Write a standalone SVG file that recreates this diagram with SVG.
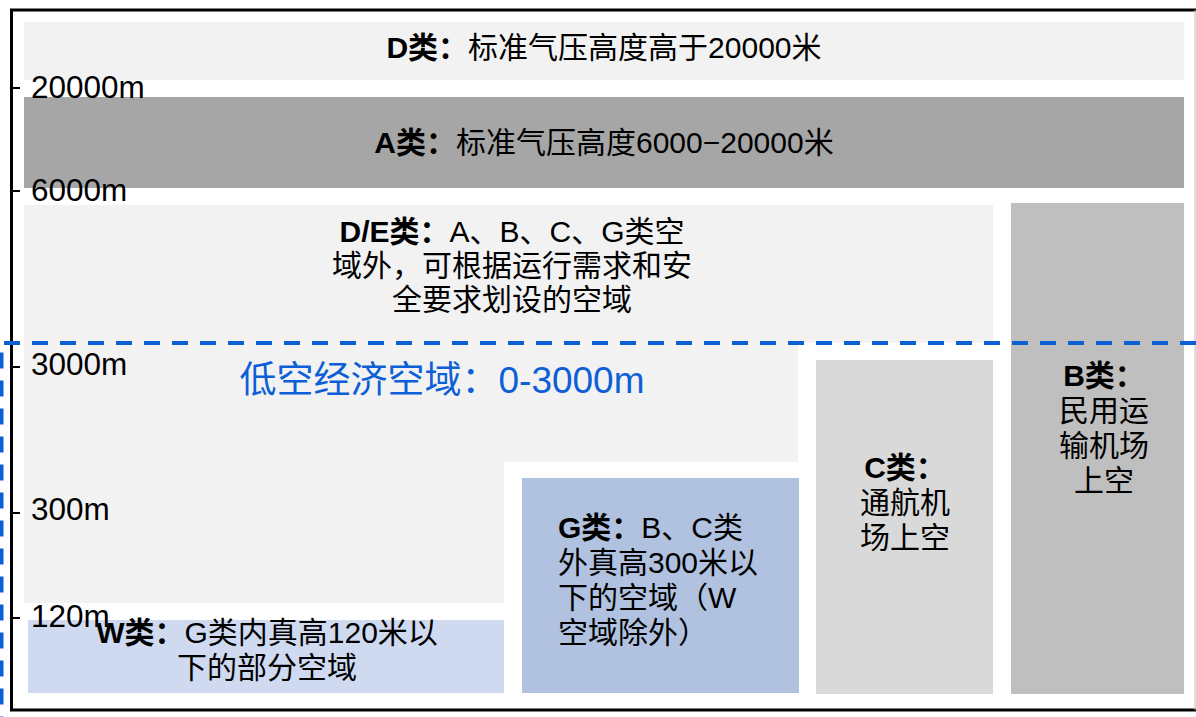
<svg xmlns="http://www.w3.org/2000/svg" width="1196" height="717" viewBox="0 0 1196 717">
<style>
text{font-family:"Liberation Sans","Noto Sans CJK SC",sans-serif;font-size:30px;fill:#000}
.b{font-weight:bold}
.m{text-anchor:middle}
.ax{font-size:31.5px}
.tick{stroke:#000;stroke-width:2}
.blue{fill:#0d5fd6;font-size:37px}
</style>
<rect x="0" y="0" width="1196" height="717" fill="#fff"/>
<g id="frame">
<path d="M1197 10 H11.5 V710 H1197" fill="none" stroke="#000" stroke-width="3"/>
<line x1="1195" y1="10" x2="1195" y2="710" stroke="#bdbdbd" stroke-width="1"/>
</g>
<g id="node-D">
<rect x="24" y="22" width="1160" height="58" fill="#f2f2f2"/>
<text class="m" x="604" y="58"><tspan class="b">D类：</tspan>标准气压高度高于20000米</text>
</g>
<g id="node-A">
<rect x="24" y="97" width="1160" height="91" fill="#a6a6a6"/>
<text class="m" x="604" y="153"><tspan class="b">A类：</tspan>标准气压高度6000−20000米</text>
</g>
<g id="node-DE">
<path d="M24 205 H993 V343 H798 V462 H504 V603 H24 Z" fill="#f2f2f2"/>
<text class="m" x="512" y="242"><tspan class="b">D/E类：</tspan>A、B、C、G类空</text>
<text class="m" x="512" y="276">域外，可根据运行需求和安</text>
<text class="m" x="512" y="310">全要求划设的空域</text>
</g>
<g id="node-low">
<text class="m blue" x="442" y="393">低空经济空域：0-3000m</text>
</g>
<g id="node-B">
<rect x="1011" y="203" width="173" height="491" fill="#bfbfbf"/>
<text class="m" x="1104" y="386"><tspan class="b">B类：</tspan></text>
<text class="m" x="1104" y="421">民用运</text>
<text class="m" x="1104" y="456">输机场</text>
<text class="m" x="1104" y="491">上空</text>
</g>
<g id="node-C">
<rect x="816" y="360" width="177" height="334" fill="#d9d9d9"/>
<text class="m" x="905" y="478"><tspan class="b">C类：</tspan></text>
<text class="m" x="905" y="513">通航机</text>
<text class="m" x="905" y="548">场上空</text>
</g>
<g id="node-G">
<rect x="522" y="478" width="277" height="215" fill="#b0c2df"/>
<text x="558" y="538"><tspan class="b">G类：</tspan>B、C类</text>
<text x="558" y="573">外真高300米以</text>
<text x="558" y="608">下的空域（W</text>
<text x="558" y="643">空域除外）</text>
</g>
<g id="node-W">
<rect x="28" y="620" width="476" height="73" fill="#cfdaf1"/>
<text class="m" x="267" y="643"><tspan class="b">W类：</tspan>G类内真高120米以</text>
<text class="m" x="267" y="678">下的部分空域</text>
</g>
<g id="axis">
<line class="tick" x1="12" y1="88" x2="20" y2="88"/>
<line class="tick" x1="12" y1="191" x2="20" y2="191"/>
<line class="tick" x1="12" y1="367" x2="20" y2="367"/>
<line class="tick" x1="12" y1="513" x2="20" y2="513"/>
<line class="tick" x1="12" y1="618" x2="20" y2="618"/>
<text class="ax" x="31" y="98">20000m</text>
<text class="ax" x="31" y="201">6000m</text>
<text class="ax" x="31" y="375">3000m</text>
<text class="ax" x="31" y="520">300m</text>
<text class="ax" x="31" y="627">120m</text>
</g>
<g id="connectors">
<path d="M1196 343 H1.5 V717" fill="none" stroke="#0d5fd6" stroke-width="4" stroke-dasharray="16 12"/>
</g>
</svg>
